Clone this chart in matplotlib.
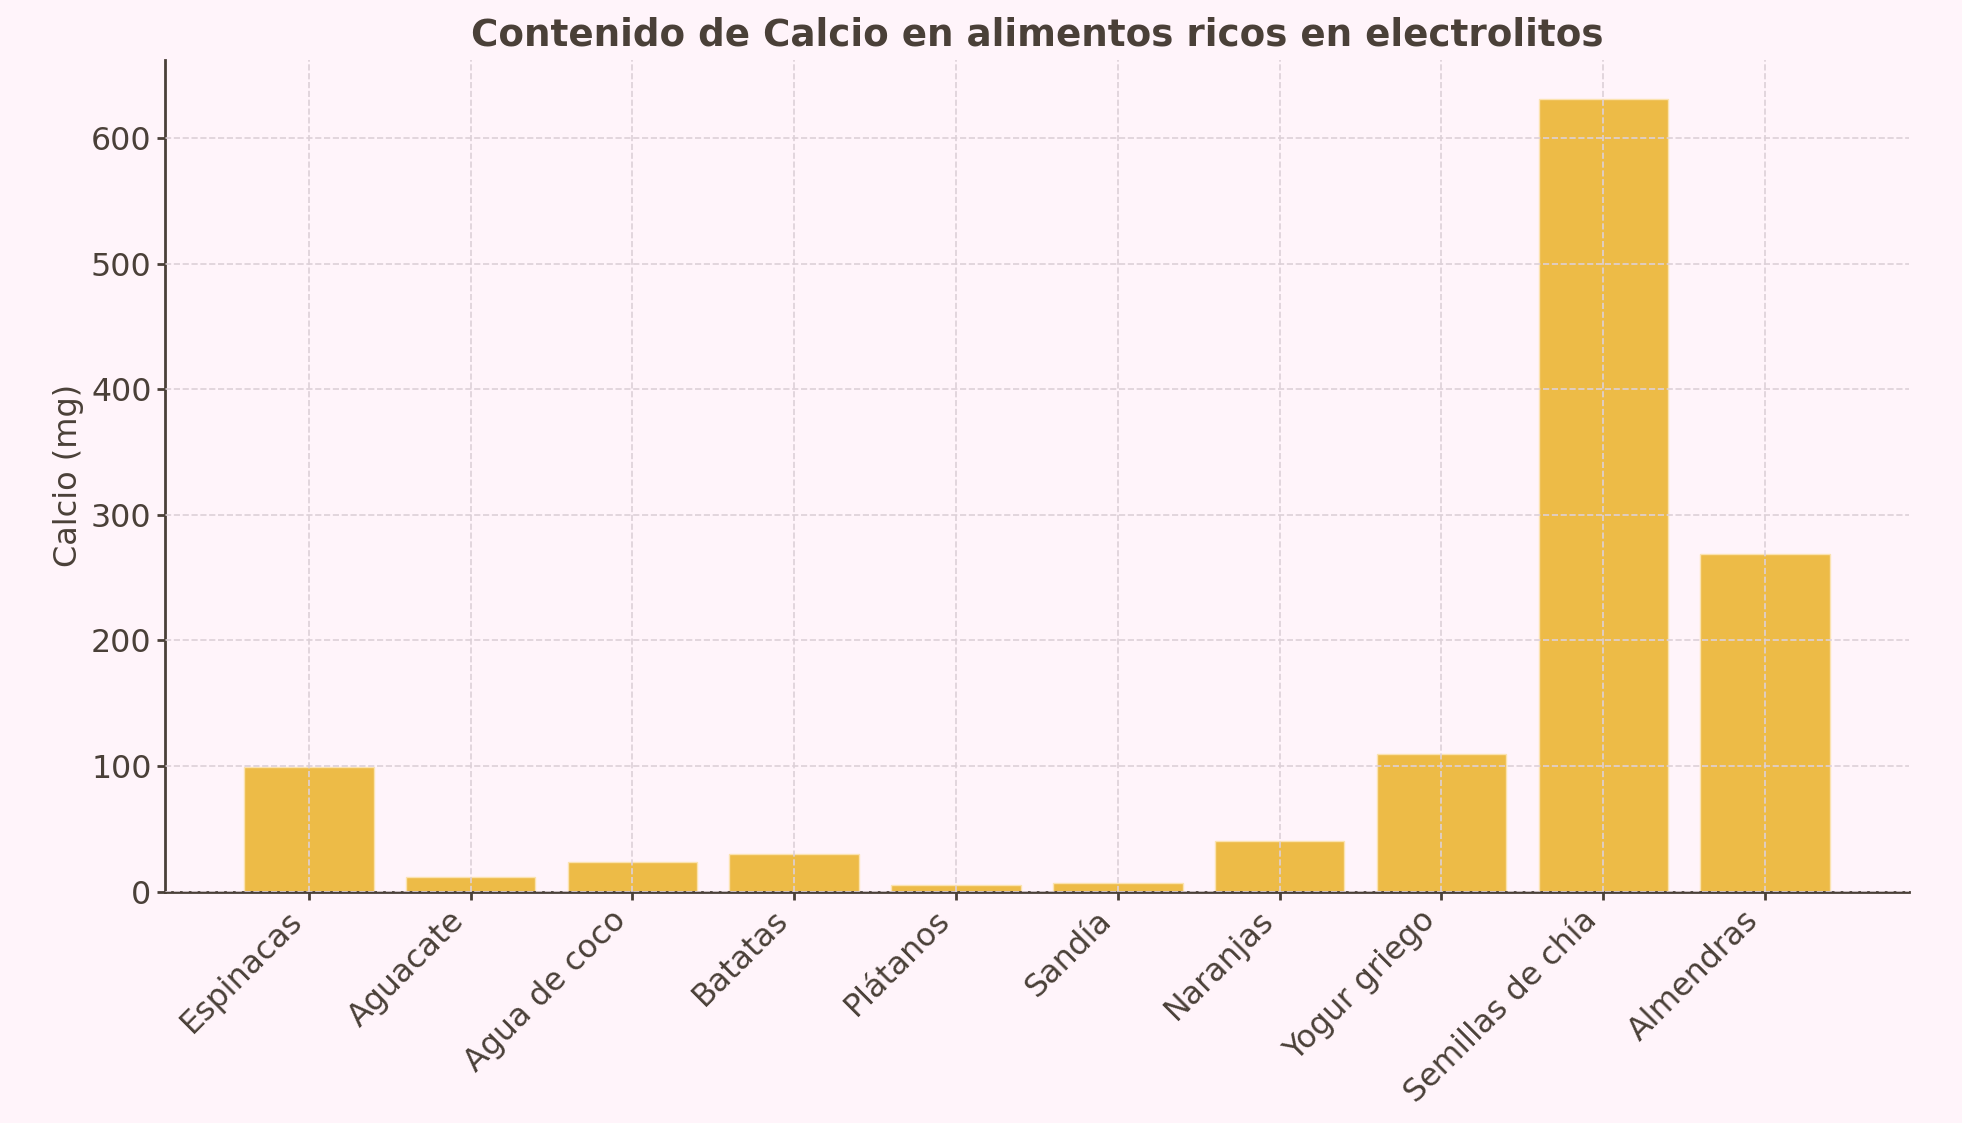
import matplotlib.pyplot as plt

alimentos = ["Espinacas", "Aguacate", "Agua de coco", "Batatas", "Plátanos",
             "Sandía", "Naranjas", "Yogur griego", "Semillas de chía", "Almendras"]
calcio_mg = [99, 12, 24, 30, 5, 7, 40, 110, 631, 269]

BG = "#fff4fa"
TEXT = "#4a4038"
BAR = "#edbb47"
GRID = "#ddd0d8"

plt.rcParams["font.family"] = ["DejaVu Sans"]

fig, ax = plt.subplots(figsize=(19.62, 11.23), dpi=100)
fig.patch.set_facecolor(BG)
ax.set_facecolor(BG)

ax.bar(alimentos, calcio_mg, color=BAR, width=0.8, edgecolor="#fbe3b0", linewidth=1)

ax.grid(True, linestyle="--", color=GRID, linewidth=1.2, zorder=3)
ax.set_axisbelow(False)

ax.set_title("Contenido de Calcio en alimentos ricos en electrolitos",
             fontsize=26.8, fontweight="bold", color=TEXT, pad=10)
ax.set_ylabel("Calcio (mg)", fontsize=23, color=TEXT, labelpad=5)

ax.tick_params(axis="both", labelsize=22.8, colors=TEXT, length=6, width=2)
plt.setp(ax.get_xticklabels(), rotation=45, ha="right")

for side in ("top", "right"):
    ax.spines[side].set_visible(False)
for side in ("left", "bottom"):
    ax.spines[side].set_color(TEXT)
    ax.spines[side].set_linewidth(2)

fig.subplots_adjust(left=0.084, right=0.973, bottom=0.206, top=0.947)
fig.savefig("out.png", dpi=100, facecolor=BG)
